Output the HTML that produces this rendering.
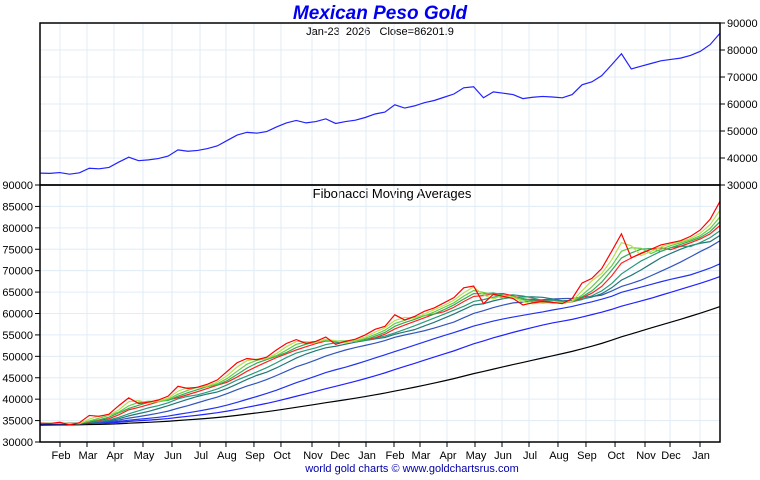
<!DOCTYPE html>
<html><head><meta charset="utf-8"><style>
body{margin:0;background:#fff;width:760px;height:475px;overflow:hidden;font-family:"Liberation Sans",sans-serif}
svg text{font-family:"Liberation Sans",sans-serif;white-space:pre}
</style></head><body>
<svg id="c" width="760" height="475" xmlns="http://www.w3.org/2000/svg">
<text x="380" y="19" text-anchor="middle" font-size="19" font-weight="bold" font-style="italic" fill="#0000ee">Mexican Peso Gold</text>
<text x="380" y="35" text-anchor="middle" font-size="11" fill="#000" xml:space="preserve">Jan-23  2026   Close=86201.9</text>
<text x="392" y="198" text-anchor="middle" font-size="13" fill="#000">Fibonacci Moving Averages</text>
<text x="412" y="472" text-anchor="middle" font-size="11" fill="#0000aa">world gold charts © www.goldchartsrus.com</text>
<g id="grid"></g><g id="lines"></g><g id="axes"></g>
</svg>
<script>
const history=[33200,33100,33300,33200,33100,33300,33200,33100,33300,33200,33300,33400,33200,33500,33400,33600,33500,33300,33600,33700,33500,33600,33800,33700,33600,33900,33800,33700,33900,34000,33800,33900,34100,34000,33900,34100,34200,34000,34100,34300,34200,34100,34300,34400,34200,34300,34400,34300,34200,34400,34500,34300,34400,34500,34400,34300,34500,34400,34300,34400];
const price=[34400,34300,34600,34000,34500,36200,36000,36500,38500,40300,39000,39300,39800,40700,43000,42500,42800,43500,44500,46500,48500,49500,49200,49800,51500,53000,53900,53000,53500,54500,52800,53500,54000,55000,56300,57000,59700,58500,59300,60500,61300,62500,63700,66000,66400,62300,64500,64000,63500,62000,62500,62800,62600,62300,63500,67100,68200,70500,74500,78600,73000,74000,75000,76000,76500,77000,78000,79500,82000,86200];
const yTicksMain=[30000,40000,50000,60000,70000,80000,90000];
const yTicksMA=[30000,35000,40000,45000,50000,55000,60000,65000,70000,75000,80000,85000,90000];
const months=["Feb","Mar","Apr","May","Jun","Jul","Aug","Sep","Oct","Nov","Dec","Jan","Feb","Mar","Apr","May","Jun","Jul","Aug","Sep","Oct","Nov","Dec","Jan"];
const monthPos=[2.03,4.77,7.51,10.45,13.39,16.24,18.87,21.71,24.45,27.6,30.34,33.08,35.92,38.56,41.3,44.14,46.88,49.62,52.56,55.4,58.35,61.39,63.93,66.97];
const maPeriods=[2,3,4,5,7,9,13,22,33,55];
const maColors=["#b8e050","#66cc44","#33aa55","#ff2222","#2a9a7a","#227777","#3355bb","#2233ee","#2222ff","#000000"];
const NS="http://www.w3.org/2000/svg";
const L=40,R=720,T1=23,B1=185,T2=185,B2=442;
const x=i=>L+i*(R-L)/(price.length-1);
const y1=v=>B1-(v-30000)/60000*(B1-T1);
const y2=v=>B2-(v-30000)/60000*(B2-T2);
function mk(t,a,p){const e=document.createElementNS(NS,t);for(const k in a)e.setAttribute(k,a[k]);p.appendChild(e);return e;}
const G=document.getElementById('grid'),LN=document.getElementById('lines'),AX=document.getElementById('axes');
monthPos.forEach((m,i)=>{const e=mk('line',{x1:x(m),x2:x(m),y1:T1,y2:B2,stroke:'#e0ecf6'},G);


const t=mk('line',{x1:x(m),x2:x(m),y1:B2,y2:B2+5,stroke:'#000'},AX);


const tx=mk('text',{x:x(m)+1,y:B2+17,'text-anchor':'middle','font-size':11},AX);tx.textContent=months[i];

});
yTicksMain.forEach(v=>{const e=mk('line',{x1:L,x2:R,y1:y1(v),y2:y1(v),stroke:'#e0ecf6'},G);


mk('line',{x1:R,x2:R+5,y1:y1(v),y2:y1(v),stroke:'#000'},AX);
const t=mk('text',{x:R+7,y:y1(v)+4,'font-size':11},AX);t.textContent=v;

});
yTicksMA.forEach(v=>{const e=mk('line',{x1:L,x2:R,y1:y2(v),y2:y2(v),stroke:'#e0ecf6'},G);


mk('line',{x1:L-5,x2:L,y1:y2(v),y2:y2(v),stroke:'#000'},AX);
const t=mk('text',{x:L-7,y:y2(v)+4,'font-size':11,'text-anchor':'end'},AX);t.textContent=v;

});
const fr1=mk('rect',{x:L,y:T1,width:R-L,height:B1-T1,fill:'none',stroke:'#000','stroke-width':1.5},AX);


const fr2=mk('rect',{x:L,y:T2,width:R-L,height:B2-T2,fill:'none',stroke:'#000','stroke-width':1.5},AX);


const pl=mk('polyline',{points:price.map((v,i)=>x(i)+','+y1(v)).join(' '),fill:'none',stroke:'#2222ff','stroke-width':1.2},LN);


const all=history.concat(price),H=history.length;
for(let k=maPeriods.length-1;k>=0;k--){const p=maPeriods[k];const pts=price.map((v,i)=>{let s=0,n=0;for(let j=0;j<p;j++){const q=all[H+i-j];if(q!==undefined){s+=q;n++;}}return x(i)+','+y2(s/n);});
const e=mk('polyline',{points:pts.join(' '),fill:'none',stroke:maColors[k],'stroke-width':1.2},LN);

}
const pr=mk('polyline',{points:price.map((v,i)=>x(i)+','+y2(v)).join(' '),fill:'none',stroke:'#ff0000','stroke-width':1.2},LN);


</script>
</body></html>
